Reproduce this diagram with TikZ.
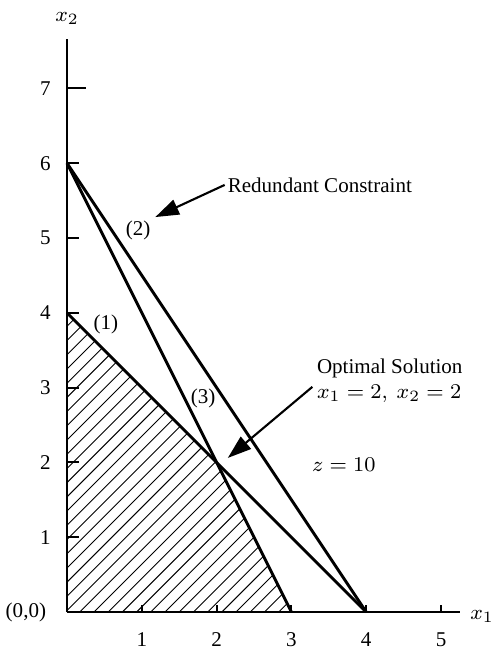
\documentclass[tikz,border=0pt]{standalone}
\usepackage{fontspec}
\setmainfont{Liberation Serif}
\usetikzlibrary{arrows.meta,positioning}

\begin{document}
\begin{tikzpicture}[
  font=\footnotesize,
  axis/.style={line width=0.9pt},
  cons/.style={line width=1.1pt},
  tick/.style={line width=0.8pt},
  hatch/.style={line width=0.35pt},
  lbl/.style={inner sep=1pt},
  arr/.style={-{Triangle[length=9pt,width=6pt]}, line width=0.8pt}
]
\useasboundingbox (-0.896,-0.481) rectangle (5.682,8.182);

\coordinate (o) at (0,0);
\coordinate (a) at (0,4);
\coordinate (b) at (0,6);
\coordinate (c) at (3,0);
\coordinate (d) at (4,0);
\coordinate (opt) at (2,2);
\coordinate (xend) at (5.25,0);
\coordinate (yend) at (0,7.66);

% feasible region
\begin{scope}
  \clip (o) -- (a) -- (opt) -- (c) -- cycle;
  \foreach \k in {-4.2,-4.01,...,3.2}
    \draw[hatch] (\k,0) -- ++(5,5);
\end{scope}

% axes
\draw[axis] (o) -- (xend);
\draw[axis] (o) -- (yend);
\node[lbl] (x1) at (5.55,-0.06) {$x_1$};
\node[lbl] (x2) at (0,7.94) {$x_2$};
\node[lbl] (orig) at (-0.55,0) {(0,0)};

\foreach \i in {1,...,5} {
  \draw[tick] (\i,0) -- (\i,0.1);
  \node[lbl] (xt\i) at (\i,-0.37) {\i};
}
\foreach \j in {1,...,6} {
  \draw[tick] (0,\j) -- (0.16,\j);
  \node[lbl] (yt\j) at (-0.29,\j) {\j};
}
\draw[tick] (0,7) -- (0.25,7);
\node[lbl] (yt7) at (-0.29,7) {7};

% constraints
\draw[cons] (a) -- (d);
\draw[cons] (b) -- (d);
\draw[cons] (b) -- (c);
\node[lbl] (c1) at (0.52,3.85) {(1)};
\node[lbl] (c2) at (0.95,5.1) {(2)};
\node[lbl] (c3) at (1.82,2.86) {(3)};

% annotations
\node[lbl] (red) at (3.38,5.71) {Redundant Constraint};
\coordinate (redtip) at (1.18,5.28);
\draw[arr] (red.west) -- (redtip);

\node[lbl, align=left, anchor=north west] (sol) at (3.3,3.42)
  {Optimal Solution\\$x_1 = 2,\ x_2 = 2$};
\coordinate (soltip) at (2.15,2.06);
\draw[arr] (3.28,3.01) -- (soltip);

\node[lbl] (zval) at (3.7,1.97) {$z = 10$};
\end{tikzpicture}
\end{document}
